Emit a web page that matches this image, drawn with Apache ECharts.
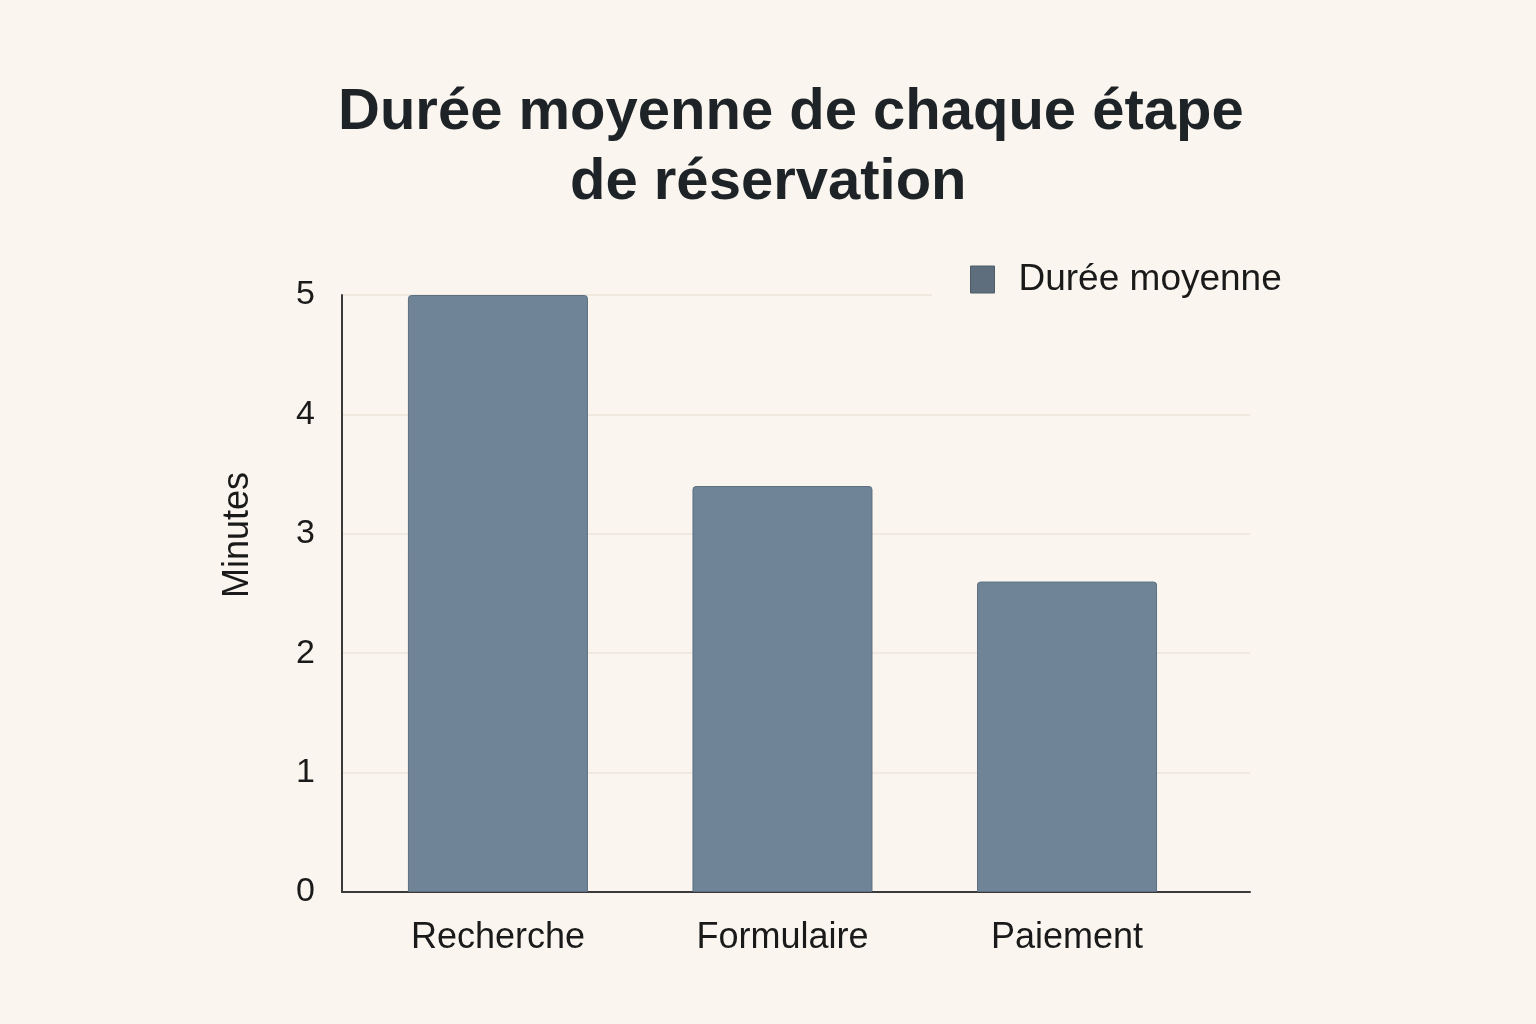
<!DOCTYPE html>
<html>
<head>
<meta charset="utf-8">
<script src="https://cdn.jsdelivr.net/npm/echarts@6/dist/echarts.min.js"></script>
<style>
html,body{margin:0;padding:0;background:#FAF6EF;}
#c{width:1536px;height:1024px;}
</style>
</head>
<body>
<div id="c"></div>
<script>
const categories = ['Recherche', 'Formulaire', 'Paiement'];
const durations = [5, 3.4, 2.6];
const yTicks = [0, 1, 2, 3, 4, 5];
const seriesName = 'Durée moyenne';
const titleLine1 = 'Durée moyenne de chaque étape';
const titleLine2 = 'de réservation';
const yName = 'Minutes';

const FONT = '"Liberation Sans", Arial, sans-serif';
const chart = echarts.init(document.getElementById('c'));
chart.setOption({
  backgroundColor: '#FAF6EF',
  animation: false,
  textStyle: { fontFamily: FONT },
  title: [
    { text: titleLine1, left: 333, top: 79,
      textStyle: { fontFamily: FONT, fontSize: 58, fontWeight: 'bold', color: '#1E2327', lineHeight: 58 } },
    { text: titleLine2, left: 565, top: 149,
      textStyle: { fontFamily: FONT, fontSize: 58, fontWeight: 'bold', color: '#1E2327', lineHeight: 58 } }
  ],
  legend: {
    left: 932, top: 255,
    padding: [6, 10, 6, 38],
    backgroundColor: '#FAF6EF',
    icon: 'rect', itemWidth: 24, itemHeight: 27,
    itemStyle: { color: '#5F6E7D', borderColor: '#4E5C69', borderWidth: 1 },
    textStyle: { fontFamily: FONT, fontSize: 37, color: '#1A1A1A', padding: [0, 0, 0, 19] },
    data: [seriesName],
    z: 10
  },
  grid: { left: 342, right: 286, top: 295, bottom: 132, containLabel: false },
  xAxis: {
    type: 'value',
    min: -0.548, max: 2.643,
    splitNumber: 3,
    splitLine: { show: false },
    axisTick: { show: false },
    axisLine: { show: true, onZero: false, lineStyle: { color: '#3A3A3A', width: 2 } },
    axisLabel: {
      margin: 28, fontSize: 36, color: '#1A1A1A', fontFamily: FONT,
      showMinLabel: false, showMaxLabel: false,
      formatter: function (v) { return (Number.isInteger(v) && categories[v] !== undefined) ? categories[v] : ''; }
    }
  },
  yAxis: {
    type: 'value', min: yTicks[0], max: yTicks[yTicks.length - 1], interval: 1,
    axisLine: { show: true, onZero: false, lineStyle: { color: '#3A3A3A', width: 2 } },
    axisTick: { show: false },
    splitLine: { show: true, lineStyle: { color: '#ECE5DA', width: 1.5 } },
    axisLabel: { margin: 27, fontSize: 34, color: '#1A1A1A', fontFamily: FONT, padding: [8, 0, 0, 0] }
  },
  graphic: [{
    type: 'text', x: 238, y: 535, rotation: Math.PI / 2,
    style: { text: yName, fontSize: 36, fontFamily: FONT, fill: '#1A1A1A', textAlign: 'center', textVerticalAlign: 'middle' }
  }],
  series: [{
    name: seriesName,
    type: 'bar',
    barWidth: 180,
    data: durations.map((d, i) => [i, d]),
    itemStyle: { color: '#6F8597', borderColor: '#5C6F80', borderWidth: 1, borderRadius: [3, 3, 0, 0] },
    z: 2
  }]
});
</script>
</body>
</html>
